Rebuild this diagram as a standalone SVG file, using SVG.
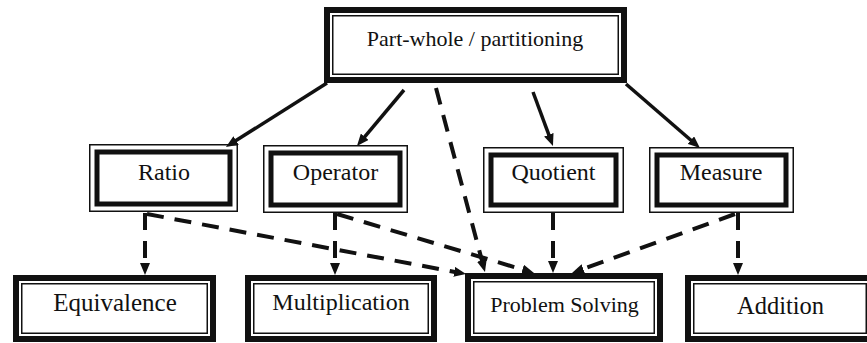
<svg xmlns="http://www.w3.org/2000/svg" width="867" height="343" viewBox="0 0 867 343">
<style>
.bg{fill:#ffffff}
.thick6{fill:#ffffff;stroke:#111;stroke-width:6}
.thin{fill:none;stroke:#111;stroke-width:1.5}
.thick5{fill:none;stroke:#111;stroke-width:5}
.lbl{font-family:"Liberation Serif","Times New Roman",serif;fill:#111;text-anchor:middle}
.solid{stroke:#111;stroke-width:3.5;fill:none;marker-end:url(#ah)}
.dash{stroke:#111;stroke-width:4;fill:none;stroke-dasharray:17 11;marker-end:url(#ah)}
</style>
<defs>
<marker id="ah" markerUnits="userSpaceOnUse" markerWidth="12" markerHeight="10" refX="2" refY="5" orient="auto">
<path d="M0,0 L12,5 L0,10 Z" fill="#111"/>
</marker>
</defs>
<rect class="bg" x="0" y="0" width="867" height="343"/>
<g id="node-partwhole">
<rect class="thick6" x="327" y="10" width="297" height="70"/>
<rect class="thin" x="332.75" y="15.75" width="285.5" height="58.5"/>
<text class="lbl" x="475" y="46" font-size="22">Part-whole / partitioning</text>
</g>
<g id="node-ratio">
<rect class="thin" x="89.75" y="144.75" width="147.5" height="66.5" fill="#fff"/>
<rect class="thick5" x="97" y="152" width="133" height="52"/>
<text class="lbl" x="164" y="180" font-size="24">Ratio</text>
</g>
<g id="node-operator">
<rect class="thin" x="263.75" y="145.75" width="143.5" height="66.5"/>
<rect class="thick5" x="271" y="153" width="129" height="52"/>
<text class="lbl" x="335.5" y="180" font-size="24">Operator</text>
</g>
<g id="node-quotient">
<rect class="thin" x="483.75" y="147.75" width="139.5" height="64.5"/>
<rect class="thick5" x="491" y="155" width="125" height="50"/>
<text class="lbl" x="553.5" y="180" font-size="24">Quotient</text>
</g>
<g id="node-measure">
<rect class="thin" x="649.75" y="147.75" width="143.5" height="64.5"/>
<rect class="thick5" x="657" y="155" width="129" height="50"/>
<text class="lbl" x="721" y="180" font-size="24">Measure</text>
</g>
<g id="node-equivalence">
<rect class="thick6" x="16" y="278" width="197" height="61"/>
<rect class="thin" x="21.75" y="283.75" width="185.5" height="49.5"/>
<text class="lbl" x="115" y="311" font-size="25">Equivalence</text>
</g>
<g id="node-multiplication">
<rect class="thick6" x="248" y="278" width="186" height="61"/>
<rect class="thin" x="253.75" y="283.75" width="174.5" height="49.5"/>
<text class="lbl" x="341" y="310" font-size="24">Multiplication</text>
</g>
<g id="node-problemsolving">
<rect class="thick6" x="468" y="276" width="192" height="63"/>
<rect class="thin" x="473.75" y="281.75" width="180.5" height="51.5"/>
<text class="lbl" x="564.5" y="312" font-size="22">Problem Solving</text>
</g>
<g id="node-addition">
<rect class="thick6" x="688" y="278" width="184" height="61"/>
<rect class="thin" x="693.75" y="283.75" width="172.5" height="49.5"/>
<text class="lbl" x="780.5" y="314" font-size="24.5">Addition</text>
</g>
<g id="connectors">
<line class="solid" x1="327" y1="83" x2="234.4" y2="141.6"/>
<line class="solid" x1="404" y1="90" x2="363.4" y2="138.3"/>
<line class="solid" x1="533" y1="92" x2="549.5" y2="136.6"/>
<line class="solid" x1="626" y1="84" x2="692.4" y2="141.5"/>
<line class="dash" x1="436" y1="88" x2="482.4" y2="262.3"/>
<line class="dash" x1="145" y1="213" x2="145" y2="265"/>
<line class="dash" x1="147" y1="214" x2="456.2" y2="272.2"/>
<line class="dash" x1="335" y1="213" x2="335" y2="265"/>
<line class="dash" x1="337" y1="214" x2="524.4" y2="270.1"/>
<line class="dash" x1="553" y1="213" x2="553" y2="263"/>
<line class="dash" x1="735" y1="214" x2="581.4" y2="269.6"/>
<line class="dash" x1="738" y1="213" x2="738" y2="265"/>
</g>
</svg>
